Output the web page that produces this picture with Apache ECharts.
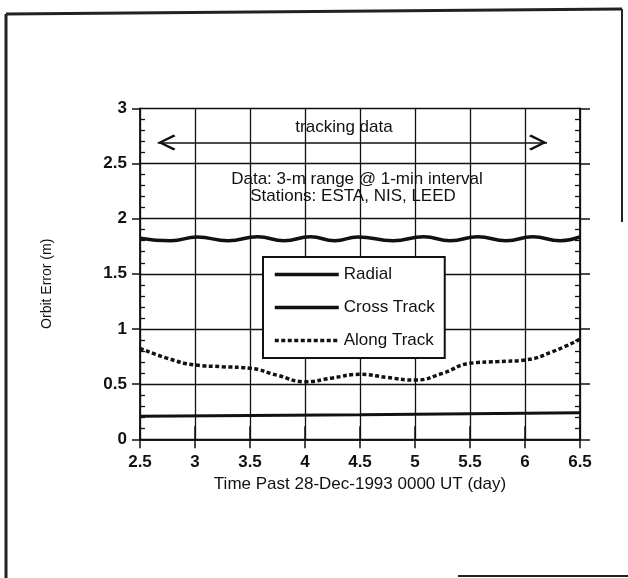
<!DOCTYPE html>
<html><head><meta charset="utf-8">
<script src="https://cdn.jsdelivr.net/npm/echarts@6/dist/echarts.min.js"></script>
<style>html,body{margin:0;padding:0;background:#fff}#c{width:628px;height:578px}</style>
</head><body><div id="c"></div>
<script>
// ---- data ----
const legendNames = ['Radial', 'Cross Track', 'Along Track'];
const radialX = [2.5, 2.78, 3.02, 3.30, 3.57, 3.81, 4.05, 4.27, 4.48, 4.80, 5.08, 5.32, 5.57, 5.83, 6.07, 6.32, 6.5];
const radialY = [1.823, 1.800, 1.833, 1.800, 1.835, 1.800, 1.835, 1.800, 1.834, 1.800, 1.835, 1.800, 1.835, 1.800, 1.835, 1.800, 1.834];
const crossX = [2.5, 4.5, 6.5];
const crossY = [0.21, 0.223, 0.24];
const alongX = [2.5, 2.75, 3.0, 3.25, 3.5, 3.75, 4.0, 4.25, 4.5, 4.75, 5.0, 5.25, 5.5, 5.75, 6.0, 6.25, 6.5];
const alongY = [0.825, 0.734, 0.674, 0.658, 0.644, 0.58, 0.522, 0.556, 0.589, 0.56, 0.537, 0.598, 0.689, 0.704, 0.719, 0.794, 0.907];
const arrowX = [2.66, 6.2];
const arrowY = 2.69;
const xName = 'Time Past 28-Dec-1993 0000 UT (day)';
const yName = 'Orbit Error (m)';
const noteLines = ['tracking data', 'Data: 3-m range @ 1-min interval', 'Stations: ESTA, NIS, LEED'];

const zip = (xs, ys) => xs.map((x, i) => [x, ys[i]]);
const FONT = '"Liberation Sans", Arial, Helvetica, sans-serif';
const INK = '#111';

const chevron = 'path://M0,-18 L0.01,-18 L0,-17.99 Z M0,0 L9,16 L7,18 L0,5 L-7,18 L-9,16 Z';

const baseX = { type: 'value', min: 2.5, max: 6.5, interval: 0.5 };
const baseY = { type: 'value', min: 0, max: 3, interval: 0.5 };

const chart = echarts.init(document.getElementById('c'), null, { renderer: 'canvas' });
chart.setOption({
  animation: false,
  backgroundColor: '#fff',
  grid: { left: 140, right: 48, top: 108.3, bottom: 138.7 },
  xAxis: [
    Object.assign({}, baseX, {
      position: 'bottom',
      axisLine: { lineStyle: { color: INK, width: 1.5 } },
      axisTick: { length: 9, lineStyle: { color: INK, width: 1.5 } },
      splitLine: { show: true, lineStyle: { color: INK, width: 1.3 } },
      axisLabel: { margin: 15, fontSize: 17, fontWeight: 'bold', color: INK, fontFamily: FONT },
      name: xName, nameLocation: 'middle', nameGap: 37,
      nameTextStyle: { fontSize: 17, color: INK, fontFamily: FONT }
    }),
    Object.assign({}, baseX, {
      position: 'top',
      axisLine: { show: true, lineStyle: { color: INK, width: 1.5 } },
      axisTick: { length: 13, lineStyle: { color: INK, width: 1.5 } },
      splitLine: { show: false }, axisLabel: { show: false }
    })
  ],
  yAxis: [
    Object.assign({}, baseY, {
      position: 'left',
      axisLine: { show: true, lineStyle: { color: INK, width: 1.8 } },
      axisTick: { length: 8, lineStyle: { color: INK, width: 1.5 } },
      splitLine: { show: true, lineStyle: { color: INK, width: 1.3 } },
      axisLabel: { margin: 13, fontSize: 17, fontWeight: 'bold', color: INK, fontFamily: FONT },
      name: yName, nameLocation: 'middle', nameGap: 86,
      nameTextStyle: { fontSize: 14, color: INK, fontFamily: FONT, padding: [0, 20, 0, 0] }
    }),
    Object.assign({}, baseY, {
      position: 'left',
      axisLine: { show: false }, splitLine: { show: false }, axisLabel: { show: false },
      axisTick: { show: false, inside: true },
      minorTick: { show: true, splitNumber: 5, length: 5, lineStyle: { color: INK, width: 1.3 } }
    }),
    Object.assign({}, baseY, {
      position: 'right',
      axisLine: { show: true, lineStyle: { color: INK, width: 1.8 } },
      axisTick: { length: 10, lineStyle: { color: INK, width: 1.5 } },
      splitLine: { show: false }, axisLabel: { show: false }
    }),
    Object.assign({}, baseY, {
      position: 'right',
      axisLine: { show: false }, splitLine: { show: false }, axisLabel: { show: false },
      axisTick: { show: false, inside: true },
      minorTick: { show: true, splitNumber: 5, length: 5, lineStyle: { color: INK, width: 1.3 } }
    })
  ],
  legend: {
    orient: 'vertical', left: 263, top: 257,
    padding: [9, 10, 9, 10],
    itemWidth: 64, itemHeight: 14, itemGap: 16,
    backgroundColor: '#fff', borderColor: INK, borderWidth: 2, borderRadius: 0,
    selectedMode: false,
    itemStyle: { opacity: 0, borderWidth: 0 },
    lineStyle: { width: 3.5 },
    textStyle: { fontSize: 17, color: INK, fontFamily: FONT },
    data: legendNames
  },
  series: [
    {
      name: legendNames[0], type: 'line', data: zip(radialX, radialY),
      smooth: true, symbol: 'none', silent: true,
      lineStyle: { color: INK, width: 3.5 }, itemStyle: { color: INK },
      markLine: {
        silent: true, animation: false,
        symbol: [chevron, chevron], symbolSize: [16, 36],
        label: { show: false },
        lineStyle: { color: INK, width: 1.5, type: 'solid' },
        data: [[{ coord: [arrowX[0], arrowY] }, { coord: [arrowX[1], arrowY] }]]
      }
    },
    {
      name: legendNames[1], type: 'line', data: zip(crossX, crossY),
      smooth: false, symbol: 'none', silent: true,
      lineStyle: { color: INK, width: 3 }, itemStyle: { color: INK }
    },
    {
      name: legendNames[2], type: 'line', data: zip(alongX, alongY),
      smooth: true, symbol: 'none', silent: true,
      lineStyle: { color: INK, width: 3.5, type: [4, 2.5] }, itemStyle: { color: INK }
    }
  ],
  graphic: [
    { type: 'line', silent: true, shape: { x1: 6, y1: 14, x2: 6, y2: 578 }, style: { stroke: '#222', lineWidth: 3 } },
    { type: 'line', silent: true, shape: { x1: 6, y1: 14, x2: 622, y2: 9 }, style: { stroke: '#222', lineWidth: 3 } },
    { type: 'line', silent: true, shape: { x1: 622, y1: 9, x2: 622, y2: 222 }, style: { stroke: '#222', lineWidth: 2 } },
    { type: 'line', silent: true, shape: { x1: 458, y1: 576, x2: 628, y2: 576 }, style: { stroke: '#222', lineWidth: 2 } },
    { type: 'text', silent: true, x: 344, y: 127, style: { text: noteLines[0], font: '17px ' + FONT, fill: INK, align: 'center', verticalAlign: 'middle' } },
    { type: 'text', silent: true, x: 357, y: 179, style: { text: noteLines[1], font: '17px ' + FONT, fill: INK, align: 'center', verticalAlign: 'middle' } },
    { type: 'text', silent: true, x: 353, y: 196, style: { text: noteLines[2], font: '17px ' + FONT, fill: INK, align: 'center', verticalAlign: 'middle' } }
  ]
});
</script>
</body></html>
